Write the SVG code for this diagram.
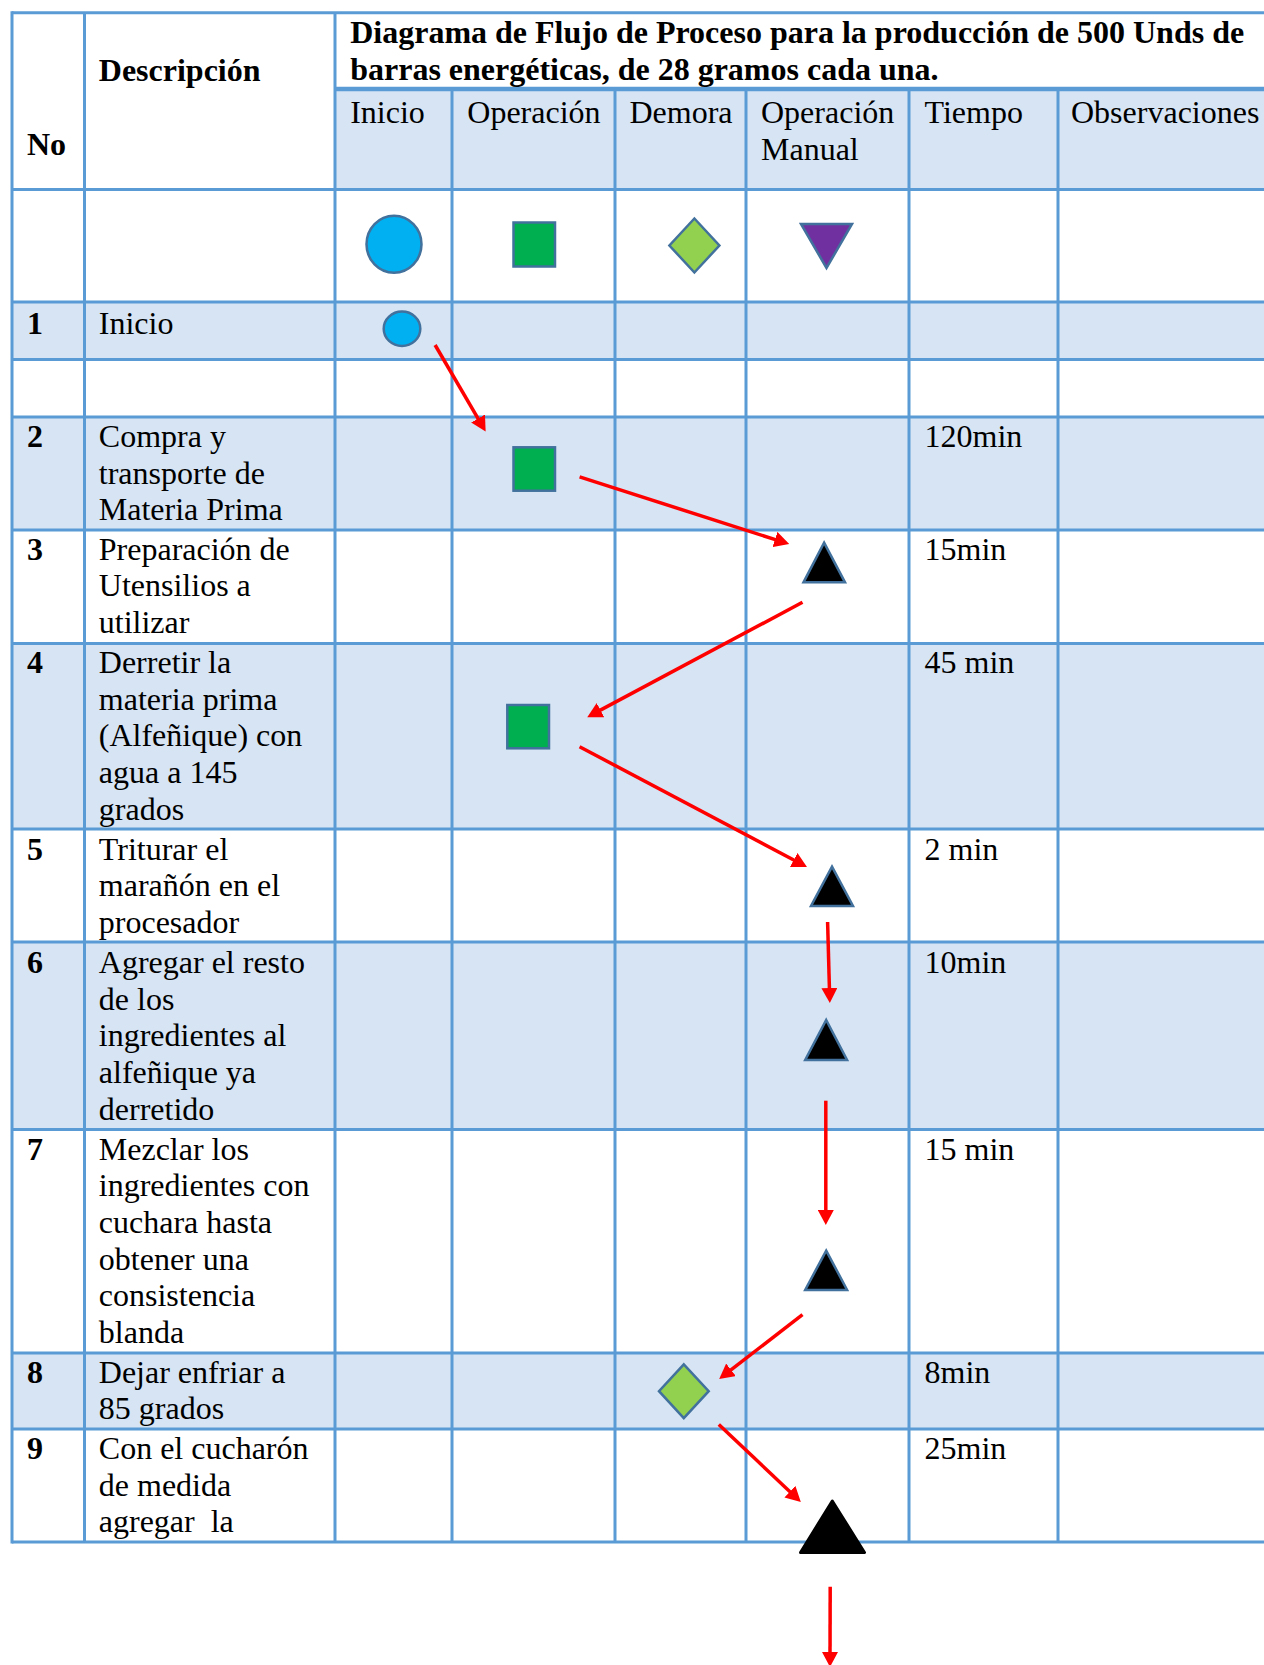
<svg xmlns="http://www.w3.org/2000/svg" width="1264" height="1665" viewBox="0 0 1264 1665">
<style>
  .bg{fill:#ffffff}
  .band{fill:#D6E4F4}
  .grid{stroke:#5B9BD5;stroke-width:3;fill:none}
  .gridT{stroke:#5B9BD5;stroke-width:4.5;fill:none}
  .t{font-family:"Liberation Serif","Times New Roman",serif;font-size:32px;fill:#000}
  .b{font-weight:bold}
  .sym{stroke:#41719C;stroke-width:2.5;stroke-linejoin:miter}
  .ini{fill:#00B0F0}
  .op{fill:#00B050}
  .dem{fill:#92D050}
  .man{fill:#7030A0}
  .tri{fill:#000000}
  .con{stroke:#FF0000;stroke-width:3.5;fill:none;marker-end:url(#ah)}
</style>
<defs>
  <marker id="ah" viewBox="0 0 15 16" refX="7" refY="8" markerWidth="15" markerHeight="16" markerUnits="userSpaceOnUse" orient="auto">
    <path d="M0,0 L15,8 L0,16 z" fill="#FF0000"/>
  </marker>
</defs>
<rect class="bg" x="0" y="0" width="1264" height="1665"/>

<g id="table">
  <rect class="band" x="335" y="89" width="929" height="100.5"/>
  <rect class="band" x="12" y="302" width="1252" height="57.5"/>
  <rect class="band" x="12" y="417" width="1252" height="113"/>
  <rect class="band" x="12" y="643.5" width="1252" height="185.5"/>
  <rect class="band" x="12" y="942" width="1252" height="187.5"/>
  <rect class="band" x="12" y="1353" width="1252" height="76"/>
  <path class="grid" d="M12,12.7H1264 M12,189.5H1264 M12,302H1264 M12,359.5H1264 M12,417H1264 M12,530H1264 M12,643.5H1264 M12,829H1264 M12,942H1264 M12,1129.5H1264 M12,1353H1264 M12,1429H1264 M12,1542H1264"/>
  <path class="gridT" d="M335,89H1264"/>
  <path class="grid" d="M12,11.2V1543.5 M84.5,12.7V1542 M335,12.7V1542 M452,89V1542 M615,89V1542 M746,89V1542 M909,89V1542 M1058,89V1542"/>
</g>

<g id="header-text">
  <text class="t b" x="27" y="154.5">No</text>
  <text class="t b" x="98.8" y="80.5">Descripción</text>
  <text class="t b" x="350.2" y="42.5">Diagrama de Flujo de Proceso para la producción de 500 Unds de</text>
  <text class="t b" x="350.2" y="79.7">barras energéticas, de 28 gramos cada una.</text>
  <text class="t" x="350.2" y="123">Inicio</text>
  <text class="t" x="467.3" y="123">Operación</text>
  <text class="t" x="629.5" y="123">Demora</text>
  <text class="t" x="761" y="123">Operación</text>
  <text class="t" x="761" y="159.7">Manual</text>
  <text class="t" x="924.5" y="123">Tiempo</text>
  <text class="t" x="1071" y="123">Observaciones</text>
</g>

<g id="row-text">
  <text class="t b" x="27" y="333.5">1</text>
  <text class="t" x="98.8" y="333.5">Inicio</text>

  <text class="t b" x="27" y="447">2</text>
  <text class="t" x="98.8" y="447"><tspan x="98.8" y="447">Compra y</tspan><tspan x="98.8" y="483.7">transporte de</tspan><tspan x="98.8" y="520.4">Materia Prima</tspan></text>
  <text class="t" x="924.5" y="447">120min</text>

  <text class="t b" x="27" y="559.5">3</text>
  <text class="t" x="98.8" y="559.5"><tspan x="98.8" y="559.5">Preparación de</tspan><tspan x="98.8" y="596.2">Utensilios a</tspan><tspan x="98.8" y="632.9">utilizar</tspan></text>
  <text class="t" x="924.5" y="559.5">15min</text>

  <text class="t b" x="27" y="673">4</text>
  <text class="t" x="98.8" y="673"><tspan x="98.8" y="673">Derretir la</tspan><tspan x="98.8" y="709.7">materia prima</tspan><tspan x="98.8" y="746.4">(Alfeñique) con</tspan><tspan x="98.8" y="783.1">agua a 145</tspan><tspan x="98.8" y="819.8">grados</tspan></text>
  <text class="t" x="924.5" y="673">45 min</text>

  <text class="t b" x="27" y="859.5">5</text>
  <text class="t" x="98.8" y="859.5"><tspan x="98.8" y="859.5">Triturar el</tspan><tspan x="98.8" y="896.2">marañón en el</tspan><tspan x="98.8" y="932.9">procesador</tspan></text>
  <text class="t" x="924.5" y="859.5">2 min</text>

  <text class="t b" x="27" y="973">6</text>
  <text class="t" x="98.8" y="973"><tspan x="98.8" y="973">Agregar el resto</tspan><tspan x="98.8" y="1009.7">de los</tspan><tspan x="98.8" y="1046.4">ingredientes al</tspan><tspan x="98.8" y="1083.1">alfeñique ya</tspan><tspan x="98.8" y="1119.8">derretido</tspan></text>
  <text class="t" x="924.5" y="973">10min</text>

  <text class="t b" x="27" y="1159.5">7</text>
  <text class="t" x="98.8" y="1159.5"><tspan x="98.8" y="1159.5">Mezclar los</tspan><tspan x="98.8" y="1196.2">ingredientes con</tspan><tspan x="98.8" y="1232.9">cuchara hasta</tspan><tspan x="98.8" y="1269.6">obtener una</tspan><tspan x="98.8" y="1306.3">consistencia</tspan><tspan x="98.8" y="1343">blanda</tspan></text>
  <text class="t" x="924.5" y="1159.5">15 min</text>

  <text class="t b" x="27" y="1382.7">8</text>
  <text class="t" x="98.8" y="1382.7"><tspan x="98.8" y="1382.7">Dejar enfriar a</tspan><tspan x="98.8" y="1419.4">85 grados</tspan></text>
  <text class="t" x="924.5" y="1382.7">8min</text>

  <text class="t b" x="27" y="1459">9</text>
  <text class="t" x="98.8" y="1459" xml:space="preserve"><tspan x="98.8" y="1459">Con el cucharón</tspan><tspan x="98.8" y="1495.7">de medida</tspan><tspan x="98.8" y="1532.4">agregar  la</tspan></text>
  <text class="t" x="924.5" y="1459">25min</text>
</g>

<g id="legend-inicio"><ellipse class="sym ini" cx="394" cy="244.3" rx="27.5" ry="28.5"/></g>
<g id="legend-operacion"><rect class="sym op" x="513.5" y="222.5" width="41.5" height="44"/></g>
<g id="legend-demora"><polygon class="sym dem" points="694.4,218.5 719.4,245.5 694.4,272.5 669.4,245.5"/></g>
<g id="legend-manual"><polygon class="sym man" points="801,224 852,224 826.5,268"/></g>

<g id="n1-inicio"><ellipse class="sym ini" cx="402" cy="328.8" rx="18.3" ry="17.2"/></g>
<g id="n2-compra"><rect class="sym op" x="513.5" y="447.3" width="41.5" height="43.4"/></g>
<g id="n3-preparacion"><polygon class="sym tri" points="824.1,542.7 845,582.3 803.5,582.3"/></g>
<g id="n4-derretir"><rect class="sym op" x="507.3" y="705" width="41.7" height="43.3"/></g>
<g id="n5-triturar"><polygon class="sym tri" points="832,866.7 853,906 811,906"/></g>
<g id="n6-agregar"><polygon class="sym tri" points="826.2,1020 847.1,1060 805.2,1060"/></g>
<g id="n7-mezclar"><polygon class="sym tri" points="826.2,1250.6 847.1,1289.9 805.2,1289.9"/></g>
<g id="n8-enfriar"><polygon class="sym dem" points="683.8,1364.3 708.7,1391.2 683.8,1418.1 659,1391.2"/></g>
<g id="n9-cucharon"><polygon points="832.3,1501 864.5,1552.5 800.5,1552.5" fill="#000" stroke="#000" stroke-width="3" stroke-linejoin="round"/></g>

<g id="connectors">
  <line class="con" x1="435.1" y1="345" x2="481.6" y2="424.6"/>
  <line class="con" x1="579.6" y1="476.9" x2="781.6" y2="541.6"/>
  <line class="con" x1="802.5" y1="602.3" x2="594.3" y2="713.4"/>
  <line class="con" x1="579.6" y1="746.7" x2="799.9" y2="863.3"/>
  <line class="con" x1="827.6" y1="922" x2="829.6" y2="995"/>
  <line class="con" x1="825.8" y1="1100.7" x2="825.8" y2="1217"/>
  <line class="con" x1="802.5" y1="1314.7" x2="725.5" y2="1374.1"/>
  <line class="con" x1="718.8" y1="1424.5" x2="795" y2="1496.5"/>
  <line class="con" x1="830.2" y1="1586.8" x2="830" y2="1659"/>
</g>
</svg>
